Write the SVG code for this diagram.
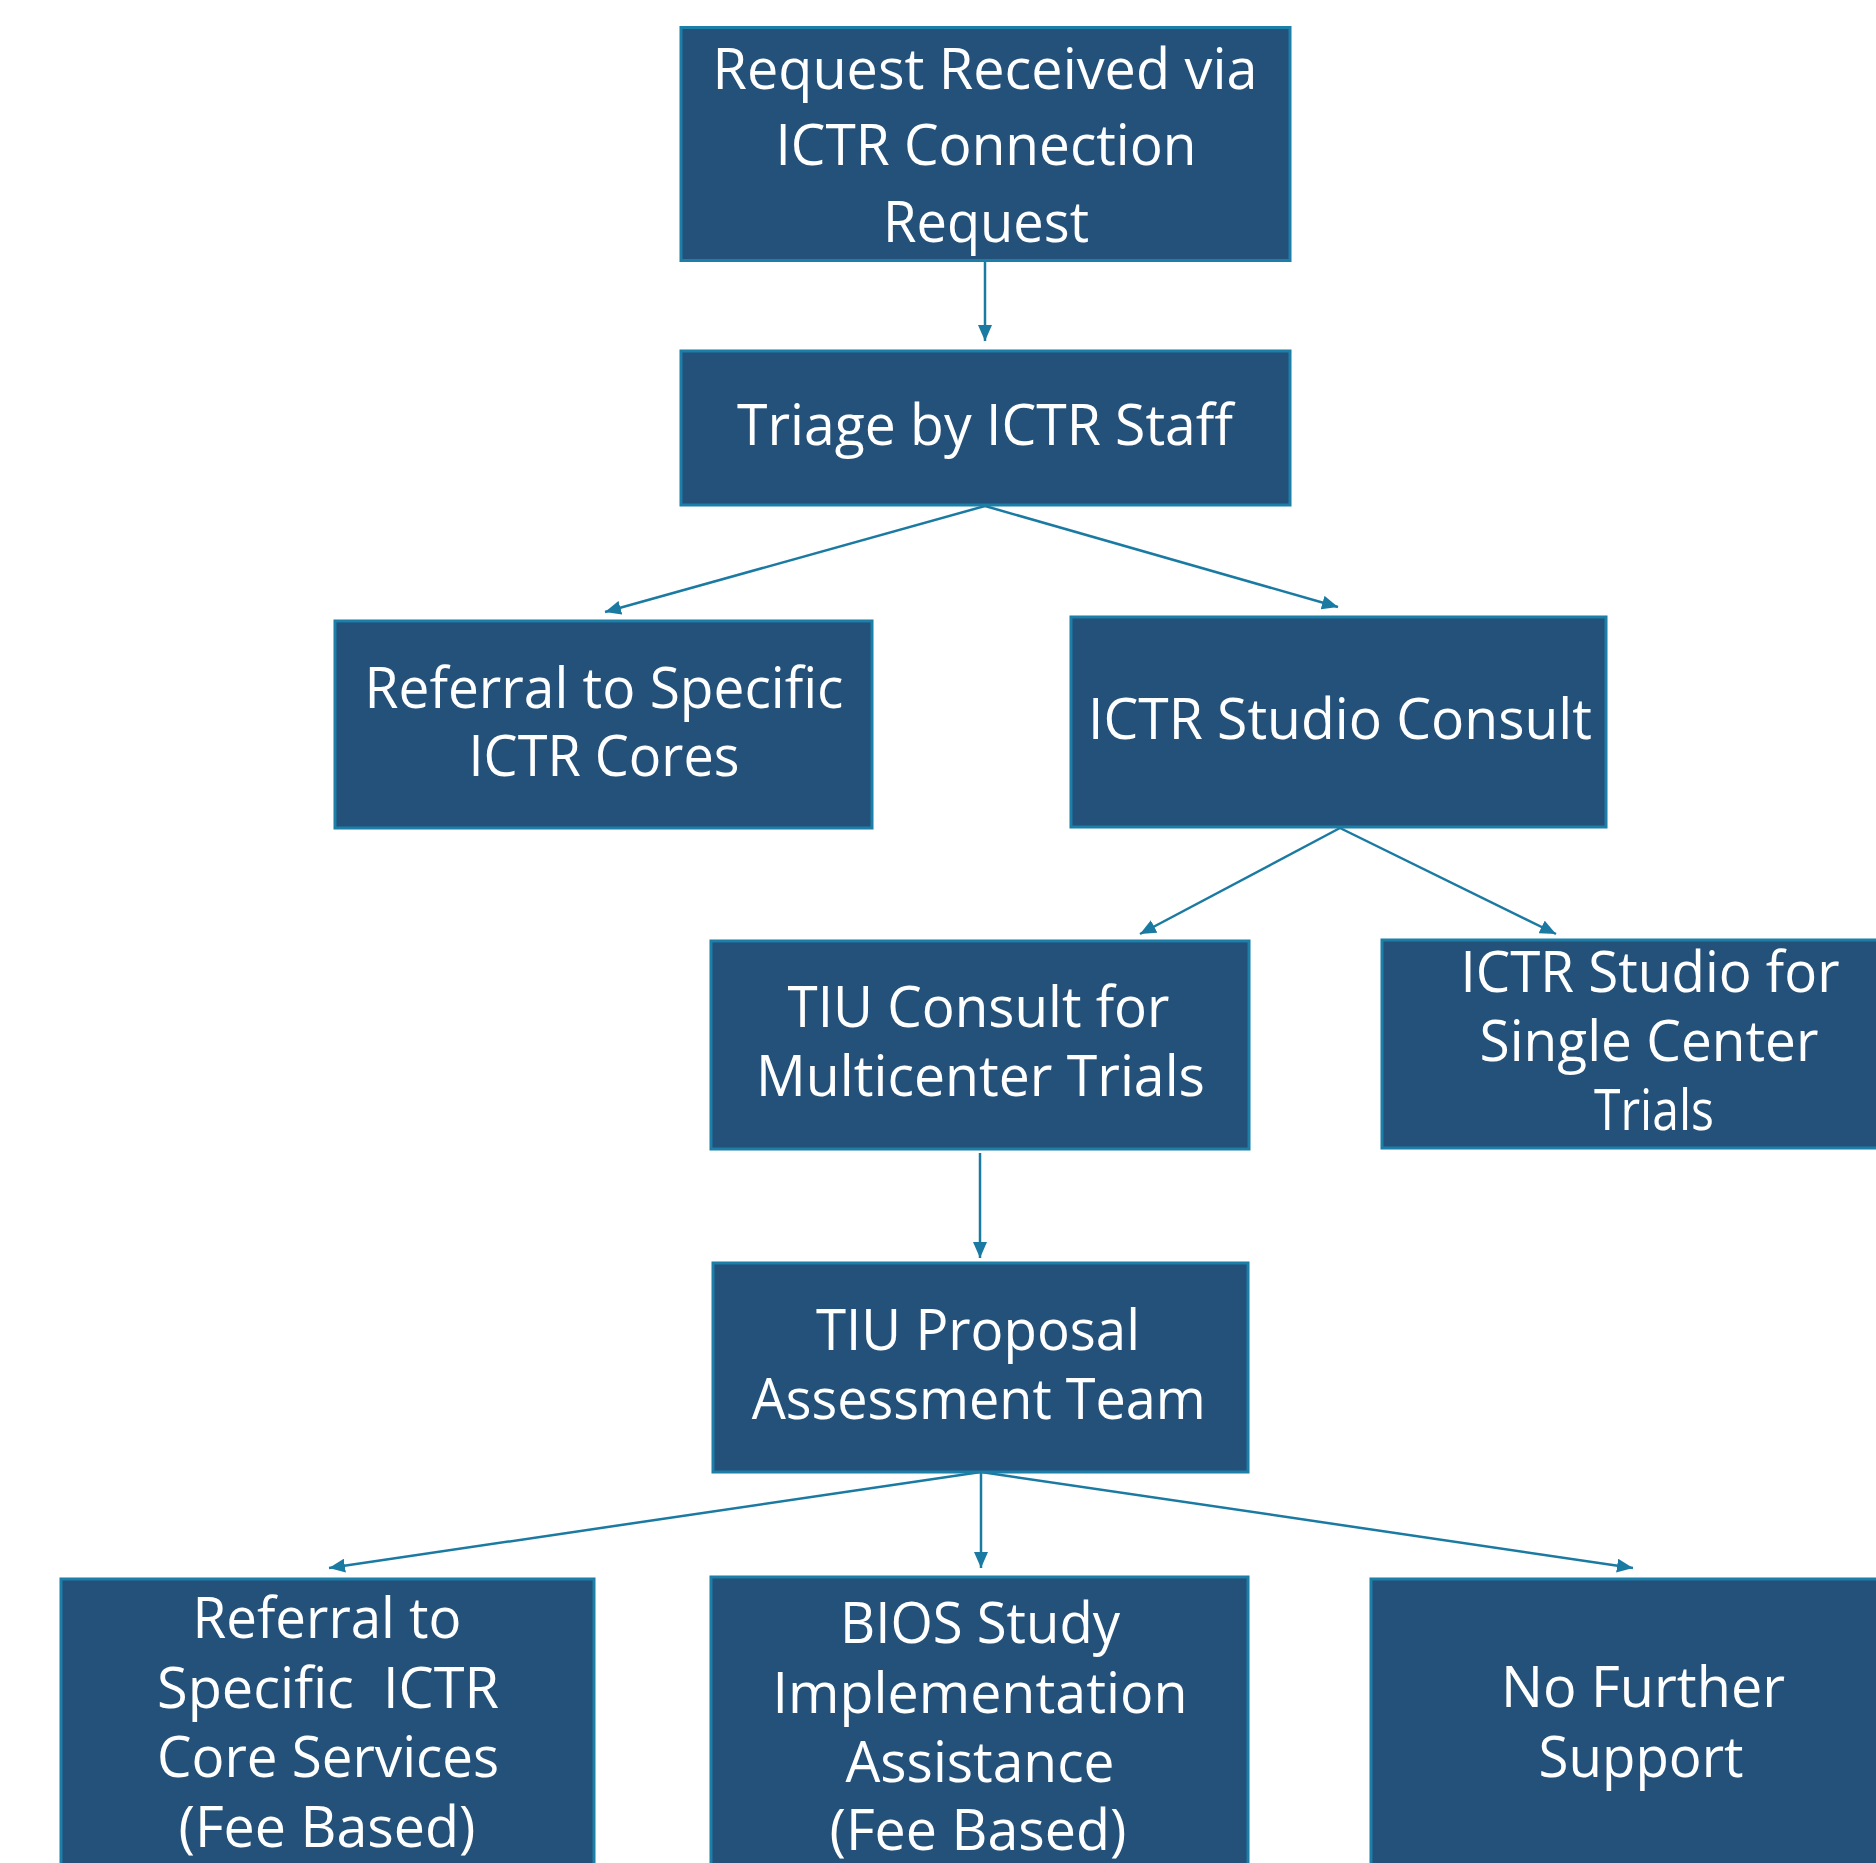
<svg xmlns="http://www.w3.org/2000/svg" width="1876" height="1863" viewBox="0 0 1876 1863">
<style>
.box{fill:#245179;stroke:#1b7fa7;stroke-width:3}
.t{font-family:"Open Sans","Noto Sans",sans-serif;font-size:56px;fill:#ffffff;text-anchor:middle}
.c{stroke:#1b7aa2;stroke-width:2.5;fill:none;marker-end:url(#ah)}
</style>
<defs>
<marker id="ah" markerWidth="16" markerHeight="14" refX="16" refY="7" orient="auto" markerUnits="userSpaceOnUse">
<path d="M0,0 L16,7 L0,14 Z" fill="#1b7aa2"/>
</marker>
</defs>
<rect width="1876" height="1863" fill="#ffffff"/>
<g id="connectors">
<line class="c" x1="985" y1="261" x2="985" y2="341"/>
<line class="c" x1="985" y1="506" x2="605" y2="612"/>
<line class="c" x1="985" y1="506" x2="1338" y2="607"/>
<line class="c" x1="1340" y1="828" x2="1140" y2="934"/>
<line class="c" x1="1340" y1="828" x2="1556" y2="934"/>
<line class="c" x1="980" y1="1153" x2="980" y2="1258"/>
<line class="c" x1="981" y1="1472" x2="329" y2="1568"/>
<line class="c" x1="981" y1="1472" x2="981" y2="1568"/>
<line class="c" x1="981" y1="1472" x2="1633" y2="1568"/>
</g>
<g id="n1">
<rect class="box" x="681" y="27.5" width="609" height="233"/>
<text class="t" x="985" y="89" textLength="545" lengthAdjust="spacingAndGlyphs">Request Received via</text>
<text class="t" x="986" y="165" textLength="421" lengthAdjust="spacingAndGlyphs">ICTR Connection</text>
<text class="t" x="986" y="241.7" textLength="206" lengthAdjust="spacingAndGlyphs">Request</text>
</g>
<g id="n2">
<rect class="box" x="681" y="351" width="609" height="154"/>
<text class="t" x="985" y="445" textLength="496" lengthAdjust="spacingAndGlyphs">Triage by ICTR Staff</text>
</g>
<g id="n3">
<rect class="box" x="335" y="621" width="537" height="207"/>
<text class="t" x="604" y="707.7" textLength="479" lengthAdjust="spacingAndGlyphs">Referral to Specific</text>
<text class="t" x="604" y="776" textLength="271" lengthAdjust="spacingAndGlyphs">ICTR Cores</text>
</g>
<g id="n4">
<rect class="box" x="1071" y="617" width="535" height="210"/>
<text class="t" x="1340" y="739" textLength="504" lengthAdjust="spacingAndGlyphs">ICTR Studio Consult</text>
</g>
<g id="n5">
<rect class="box" x="711" y="941" width="538" height="208"/>
<text class="t" x="978.5" y="1026.7" textLength="382" lengthAdjust="spacingAndGlyphs">TIU Consult for</text>
<text class="t" x="980.5" y="1095.7" textLength="449" lengthAdjust="spacingAndGlyphs">Multicenter Trials</text>
</g>
<g id="n6">
<rect class="box" x="1382" y="940" width="520" height="208"/>
<text class="t" x="1650" y="992" textLength="379" lengthAdjust="spacingAndGlyphs">ICTR Studio for</text>
<text class="t" x="1649" y="1061" textLength="339" lengthAdjust="spacingAndGlyphs">Single Center</text>
<text class="t" x="1654" y="1130" textLength="120" lengthAdjust="spacingAndGlyphs">Trials</text>
</g>
<g id="n7">
<rect class="box" x="713" y="1263" width="535" height="209"/>
<text class="t" x="978" y="1350" textLength="324" lengthAdjust="spacingAndGlyphs">TIU Proposal</text>
<text class="t" x="978.7" y="1419" textLength="454" lengthAdjust="spacingAndGlyphs">Assessment Team</text>
</g>
<g id="n8">
<rect class="box" x="61" y="1579" width="533" height="300"/>
<text class="t" x="327" y="1638" textLength="269" lengthAdjust="spacingAndGlyphs">Referral to</text>
<text class="t" x="328" y="1708" textLength="342" lengthAdjust="spacingAndGlyphs" xml:space="preserve">Specific  ICTR</text>
<text class="t" x="328" y="1777" textLength="342" lengthAdjust="spacingAndGlyphs">Core Services</text>
<text class="t" x="327" y="1847" textLength="297" lengthAdjust="spacingAndGlyphs">(Fee Based)</text>
</g>
<g id="n9">
<rect class="box" x="711" y="1577" width="537" height="300"/>
<text class="t" x="980" y="1643" textLength="280" lengthAdjust="spacingAndGlyphs">BIOS Study</text>
<text class="t" x="980" y="1713" textLength="415" lengthAdjust="spacingAndGlyphs">Implementation</text>
<text class="t" x="980" y="1782" textLength="269" lengthAdjust="spacingAndGlyphs">Assistance</text>
<text class="t" x="978" y="1850" textLength="297" lengthAdjust="spacingAndGlyphs">(Fee Based)</text>
</g>
<g id="n10">
<rect class="box" x="1371" y="1579" width="520" height="300"/>
<text class="t" x="1643" y="1707" textLength="284" lengthAdjust="spacingAndGlyphs">No Further</text>
<text class="t" x="1641" y="1777" textLength="205" lengthAdjust="spacingAndGlyphs">Support</text>
</g>
</svg>
